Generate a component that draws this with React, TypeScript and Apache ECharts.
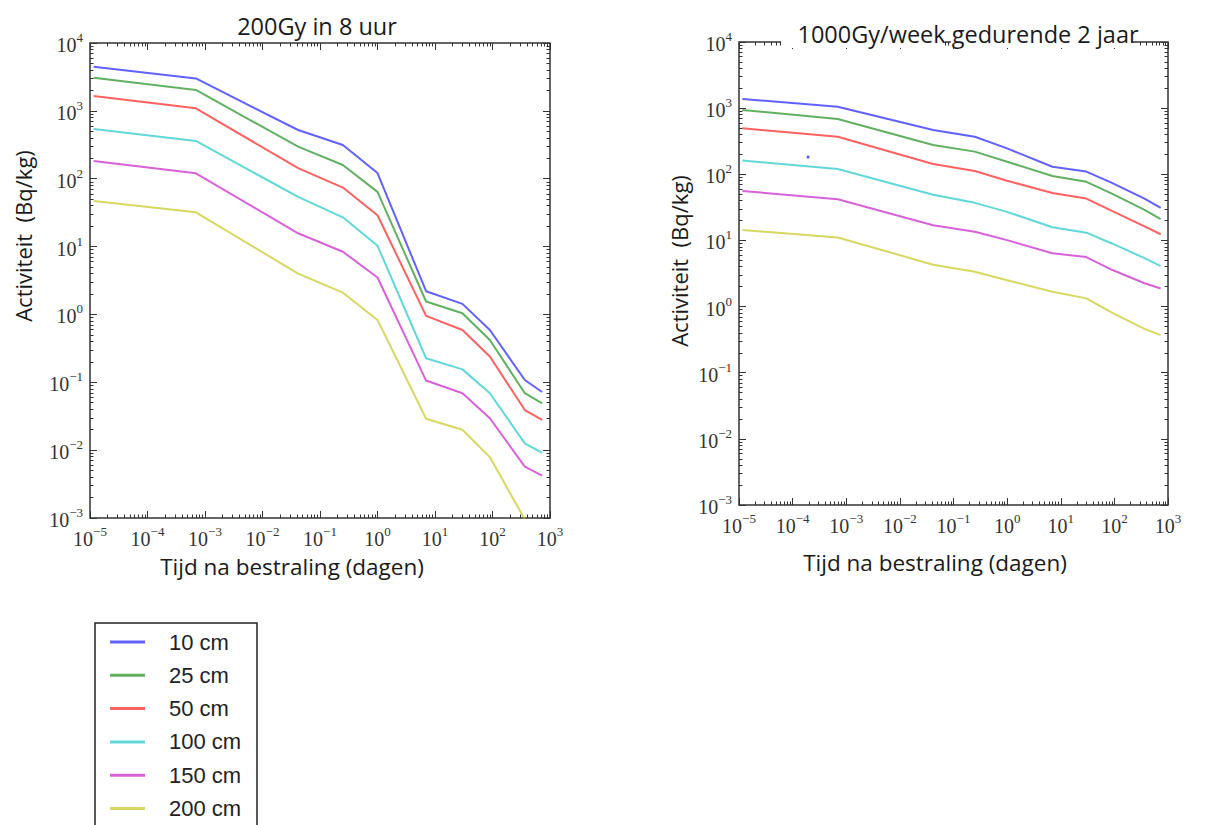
import React, { useEffect, useRef } from "react";
import * as echarts from "echarts";

// ---------- data ----------
const seriesNames = ["10 cm", "25 cm", "50 cm", "100 cm", "150 cm", "200 cm"];
const seriesColors = ["#0000ff", "#008000", "#ff0000", "#00bfbf", "#bf00bf", "#bfbf00"];

// time after irradiation (days): 1 s, 1 min, 1 h, 6 h, 1 d, 1 wk, 1 mo, 3 mo, 1 y, 2 y
const times = [1 / 86400, 1 / 1440, 1 / 24, 0.25, 1, 7, 30, 90, 365, 730];

// Left chart: 200Gy in 8 uur
const left10 = [4470, 3000, 522, 314, 121, 2.2, 1.43, 0.59, 0.108, 0.072];
const left25 = [3080, 2030, 297, 159, 64, 1.55, 1.04, 0.42, 0.069, 0.049];
const left50 = [1660, 1090, 143, 74, 29, 0.95, 0.59, 0.24, 0.039, 0.028];
const left100 = [540, 360, 54, 27, 10.3, 0.226, 0.155, 0.069, 0.0126, 0.0091];
const left150 = [182, 120, 15.7, 8.4, 3.5, 0.106, 0.069, 0.0295, 0.0057, 0.0042];
const left200 = [47, 32, 4.0, 2.09, 0.83, 0.029, 0.02, 0.0079, 0.00095, 0.0004];

// Right chart: 1000Gy/week gedurende 2 jaar
const right10 = [1375, 1050, 468, 370, 246, 130, 110, 74, 43, 31];
const right25 = [937, 686, 277, 220, 155, 94, 77, 51, 29, 21];
const right50 = [495, 370, 143, 112, 80, 52, 43, 28, 16.3, 12.4];
const right100 = [161, 120, 49, 37, 27, 15.8, 13.1, 9.0, 5.4, 4.1];
const right150 = [56, 42, 17, 13.5, 10.1, 6.4, 5.6, 3.6, 2.25, 1.88];
const right200 = [14.4, 11.1, 4.3, 3.37, 2.5, 1.68, 1.33, 0.81, 0.46, 0.37];

// stray dot visible in the right chart
const strayDot = [[1.94e-4, 182]];

// tick exponents
const xTickExps = [-5, -4, -3, -2, -1, 0, 1, 2, 3];
const yTickExps = [-3, -2, -1, 0, 1, 2, 3, 4];

const leftData = [left10, left25, left50, left100, left150, left200];
const rightData = [right10, right25, right50, right100, right150, right200];

// ---------- helpers ----------
function minorOf(exps: number[]) {
  const out: number[] = [];
  for (let i = 0; i < exps.length - 1; i++) {
    for (let k = 2; k <= 9; k++) out.push(exps[i] + Math.log10(k));
  }
  return out;
}
const supText = (e: number) => (e < 0 ? "\u2212" + Math.abs(Math.round(e)) : String(Math.round(e)));

const labelRich = {
  b: { fontFamily: "Liberation Serif", fontSize: 20, color: "#333", verticalAlign: "bottom", lineHeight: 24 },
  s: { fontFamily: "Liberation Serif", fontSize: 13, color: "#333", verticalAlign: "top", lineHeight: 13 },
};

function tickAxis(
  gridIndex: number,
  min: number,
  max: number,
  position: string,
  values: number[],
  len: number,
  labels: boolean
) {
  return {
    type: "value",
    gridIndex,
    position,
    min,
    max,
    silent: true,
    axisLine: { show: false, onZero: false },
    splitLine: { show: false },
    axisTick: {
      show: true,
      inside: true,
      length: len,
      lineStyle: { color: "#333", width: 1 },
      customValues: values,
    },
    axisLabel: labels
      ? {
          show: true,
          margin: 7,
          customValues: values,
          formatter: (v: number) => `{b|10}{s|${supText(v)}}`,
          rich: labelRich,
        }
      : { show: false },
  };
}

function buildOption() {
  const xMinor = minorOf(xTickExps);
  const yMinor = minorOf(yTickExps);
  const xMin = xTickExps[0];
  const xMax = xTickExps[xTickExps.length - 1];
  const yMin = yTickExps[0];
  const yMax = yTickExps[yTickExps.length - 1];

  const grids = [
    { left: 90, top: 43, width: 460, height: 475 },
    { left: 739, top: 42, width: 429, height: 463 },
  ].map((g) => ({
    ...g,
    show: true,
    borderColor: "#333",
    borderWidth: 1.5,
    backgroundColor: "transparent",
    containLabel: false,
    outerBoundsMode: "none",
  }));

  const xAxis: any[] = [];
  const yAxis: any[] = [];
  for (let g = 0; g < 2; g++) {
    xAxis.push({
      type: "log",
      logBase: 10,
      gridIndex: g,
      min: Math.pow(10, xMin),
      max: Math.pow(10, xMax),
      show: false,
      axisLine: { onZero: false },
    });
    xAxis.push(tickAxis(g, xMin, xMax, "bottom", xTickExps, 7, true));
    xAxis.push(tickAxis(g, xMin, xMax, "bottom", xMinor, 3.5, false));
    xAxis.push(tickAxis(g, xMin, xMax, "top", xTickExps, 7, false));
    xAxis.push(tickAxis(g, xMin, xMax, "top", xMinor, 3.5, false));

    yAxis.push({
      type: "log",
      logBase: 10,
      gridIndex: g,
      min: Math.pow(10, yMin),
      max: Math.pow(10, yMax),
      show: false,
      axisLine: { onZero: false },
    });
    yAxis.push(tickAxis(g, yMin, yMax, "left", yTickExps, 7, true));
    yAxis.push(tickAxis(g, yMin, yMax, "left", yMinor, 3.5, false));
    yAxis.push(tickAxis(g, yMin, yMax, "right", yTickExps, 7, false));
    yAxis.push(tickAxis(g, yMin, yMax, "right", yMinor, 3.5, false));
  }

  const series: any[] = [];
  const mk = (name: string, color: string, vals: number[], axisIdx: number) => ({
    type: "line",
    name,
    xAxisIndex: axisIdx,
    yAxisIndex: axisIdx,
    data: times.map((t, j) => [t, vals[j]]),
    symbol: "none",
    color,
    lineStyle: { color, width: 2, opacity: 0.62 },
    itemStyle: { color, opacity: 0.62 },
    clip: true,
    silent: true,
  });
  seriesNames.forEach((n, i) => series.push(mk(n, seriesColors[i], leftData[i], 0)));
  seriesNames.forEach((n, i) => series.push(mk(n, seriesColors[i], rightData[i], 5)));
  series.push({
    type: "scatter",
    name: "stip",
    xAxisIndex: 5,
    yAxisIndex: 5,
    data: strayDot,
    symbolSize: 3,
    itemStyle: { color: "#2a2aff" },
    silent: true,
  });

  const txt = (text: string, x: number, y: number, size: number, rotation = 0, z = 60) => ({
    type: "text",
    x,
    y,
    rotation,
    z,
    style: {
      text,
      fontFamily: "Open Sans",
      fontSize: size,
      fill: "#1a1a1a",
      align: "center",
      verticalAlign: "middle",
      textAlign: "center",
      textVerticalAlign: "middle",
    },
  });

  const graphic: any[] = [
    // legend frame (runs past the bottom of the page)
    {
      type: "rect",
      z: 0,
      shape: { x: 95, y: 623, width: 162, height: 240 },
      style: { fill: "#fff", stroke: "#222", lineWidth: 1.5 },
    },
    // white patches where the right title interrupts the frame
    { type: "rect", z: 50, shape: { x: 781, y: 36, width: 164, height: 12 }, style: { fill: "#fff" } },
    { type: "rect", z: 50, shape: { x: 951, y: 36, width: 182, height: 12 }, style: { fill: "#fff" } },
    txt("200Gy in 8 uur", 317, 26, 23.5),
    txt("1000Gy/week gedurende 2 jaar", 968, 34, 23.5),
    txt("Tijd na bestraling (dagen)", 292, 566, 22.5),
    txt("Tijd na bestraling (dagen)", 935, 562, 22.5),
    txt("Activiteit  (Bq/kg)", 23, 236, 22, Math.PI / 2),
    txt("Activiteit  (Bq/kg)", 679, 261, 22, Math.PI / 2),
  ];

  return {
    animation: false,
    backgroundColor: "#fff",
    grid: grids,
    xAxis,
    yAxis,
    series,
    graphic,
    legend: {
      data: seriesNames,
      orient: "vertical",
      left: 110,
      top: 631,
      padding: 0,
      icon: "rect",
      itemWidth: 35,
      itemHeight: 3,
      itemGap: 11.3,
      selectedMode: false,
      z: 10,
      textStyle: {
        fontFamily: "Liberation Sans",
        fontSize: 22,
        lineHeight: 22,
        color: "#222",
        padding: [0, 0, 0, 19],
      },
    },
  };
}

export default function App() {
  const ref = useRef<HTMLDivElement>(null);
  useEffect(() => {
    if (!ref.current) return;
    const chart = echarts.init(ref.current, null, { renderer: "svg" });
    chart.setOption(buildOption() as any);
    return () => chart.dispose();
  }, []);
  return (
    <div
      ref={ref}
      style={{ position: "fixed", left: 0, top: 0, width: 1206, height: 825, background: "#fff" }}
    />
  );
}
